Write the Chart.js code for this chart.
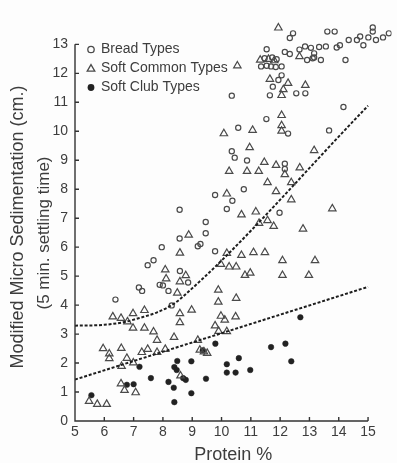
<!DOCTYPE html>
<html>
<head>
<meta charset="utf-8">
<script src="https://cdn.jsdelivr.net/npm/chart.js@4.4.1/dist/chart.umd.min.js"></script>
<style>
  html, body { margin: 0; padding: 0; background: #fdfdfd; }
  canvas { display: block; }
</style>
</head>
<body>
<canvas id="chart" width="397" height="463"></canvas>
<script>
// Data
const breadX = [12.44, 12.33, 13.61, 13.86, 15.16, 15.16, 15.01, 15.27, 15.51, 15.71, 14.62, 14.73, 14.34, 14.84, 13.93, 14.04, 14.23, 13.33, 13.56, 12.85,
    13.05, 13.16, 13.16, 12.66, 12.16, 12.33, 12.92, 13.11, 13.39, 11.54, 11.47, 11.73, 11.88, 11.35, 11.54, 11.69, 11.85, 12.05, 12.05, 11.94,
    11.75, 11.65, 12.55, 12.86, 10.35, 14.16, 11.53, 10.57, 12.27, 13.67, 10.35, 10.45, 10.87, 12.16, 12.16, 10.76, 9.78, 10.37, 10.18, 8.57,
    11.98, 9.46, 9.46, 8.57, 9.19, 9.28, 7.96, 9.78, 7.48, 7.68, 8.58, 8.86, 7.89, 8.00, 7.18, 7.29, 8.19, 6.38, 8.30];
const breadY = [13.38, 13.22, 13.44, 13.44, 13.58, 13.44, 13.24, 13.15, 13.24, 13.38, 13.15, 13.27, 13.15, 12.97, 12.89, 12.97, 12.46, 12.91, 12.93, 12.93,
    12.88, 12.69, 12.55, 12.82, 12.74, 12.67, 12.46, 12.52, 12.46, 12.83, 12.52, 12.55, 12.49, 12.24, 12.26, 12.24, 12.22, 12.24, 11.93, 11.77,
    11.54, 11.24, 11.31, 11.31, 11.23, 10.84, 10.42, 10.12, 9.92, 10.03, 9.31, 9.09, 8.99, 8.88, 8.70, 8.00, 7.80, 7.60, 7.32, 7.29,
    7.19, 6.87, 6.48, 6.30, 6.03, 6.11, 6.00, 5.86, 5.38, 5.55, 5.18, 4.78, 4.70, 4.68, 4.61, 4.49, 4.49, 4.19, 3.99];

const commonX = [11.94, 10.54, 11.32, 11.60, 11.80, 12.66, 11.65, 12.27, 12.86, 12.05, 12.11, 12.05, 12.05, 12.05, 11.06, 10.08, 10.96, 13.16, 11.46, 11.86,
    12.16, 12.67, 10.26, 10.87, 11.27, 11.57, 12.38, 11.86, 10.18, 12.38, 13.78, 10.68, 11.17, 11.28, 11.57, 11.78, 12.78, 8.88, 8.58, 10.18,
    10.68, 11.09, 11.48, 12.08, 13.19, 9.98, 10.26, 10.50, 8.08, 8.78, 10.80, 10.98, 12.08, 12.98, 8.11, 8.58, 8.49, 9.89, 9.89, 10.50,
    8.98, 8.58, 8.58, 6.29, 6.57, 6.79, 6.98, 7.37, 6.98, 7.37, 7.68, 7.80, 8.38, 9.98, 10.11, 9.78, 10.48, 9.90, 10.18, 9.19,
    9.26, 9.40, 9.51, 8.60, 5.96, 6.17, 6.17, 6.58, 6.77, 6.59, 6.99, 7.28, 7.48, 7.80, 8.08, 6.57, 6.69, 7.07, 5.48, 5.76, 6.08];
const commonY = [13.57, 12.26, 12.46, 12.49, 12.44, 12.58, 11.80, 11.66, 11.59, 11.24, 11.44, 10.55, 10.20, 10.01, 10.04, 9.92, 9.44, 9.34, 8.93, 8.83,
    8.51, 8.74, 8.62, 8.62, 8.62, 8.23, 8.23, 7.92, 7.84, 7.64, 7.33, 7.12, 7.22, 6.83, 6.92, 6.72, 6.63, 6.42, 5.80, 5.79,
    5.72, 5.82, 5.82, 5.54, 5.54, 5.41, 5.32, 5.32, 5.22, 5.02, 5.03, 5.11, 5.03, 5.03, 4.91, 4.81, 4.42, 4.52, 4.11, 4.24,
    3.83, 3.71, 3.40, 3.60, 3.55, 3.43, 3.71, 3.82, 3.21, 3.21, 3.08, 2.79, 2.89, 3.62, 3.49, 3.29, 3.60, 3.10, 3.09, 2.79,
    2.45, 2.39, 2.34, 1.56, 2.50, 2.32, 2.16, 2.51, 2.17, 1.89, 2.01, 2.37, 2.48, 2.37, 2.48, 1.29, 1.06, 0.98, 0.68, 0.58, 0.58];

const clubX = [5.56, 6.77, 7.00, 7.20, 7.59, 8.19, 8.37, 8.39, 8.49, 8.39, 8.47, 8.69, 8.78, 8.97, 8.97, 9.36, 9.47, 9.79, 10.18, 10.18,
    10.48, 10.59, 10.98, 11.69, 12.18, 12.38, 12.69];
const clubY = [0.89, 1.25, 1.27, 1.87, 1.48, 1.35, 1.15, 0.65, 2.07, 1.86, 1.76, 1.48, 1.42, 2.06, 0.96, 2.44, 1.46, 2.67, 1.96, 1.67,
    1.67, 2.17, 1.76, 2.55, 2.67, 2.06, 3.58];

// the two dashed curves drawn on the figure
const upperFitX = [5, 6, 6.7, 7.25, 7.8, 8.25, 8.6, 15];
const upperFitY = [3.29, 3.32, 3.42, 3.57, 3.75, 3.97, 4.22, 10.88];
const lowerFitX = [5, 15];
const lowerFitY = [1.43, 4.63];

const xTicks = [5, 6, 7, 8, 9, 10, 11, 12, 13, 14, 15];
const yTicks = [0, 1, 2, 3, 4, 5, 6, 7, 8, 9, 10, 11, 12, 13];

const legendLabels = ['Bread Types', 'Soft Common Types', 'Soft Club Types'];
const yTitleLines = ['Modified Micro Sedimentation (cm.)', '(5 min. settling time)'];

const inkColor = '#3d3d3d';
const markColor = '#4a4a4a';
const fontFamily = '"Liberation Sans", Arial, sans-serif';

const toPoints = (xs, ys) => xs.map((x, i) => ({ x: x, y: ys[i] }));

// axes are drawn only over the labelled range, like the original
const axesPlugin = {
    id: 'axes',
    afterDatasetsDraw(chart) {
        const ctx = chart.ctx;
        const xs = chart.scales.x;
        const ys = chart.scales.y;
        const x0 = xs.getPixelForValue(xTicks[0]);
        const x1 = xs.getPixelForValue(xTicks[xTicks.length - 1]);
        const y0 = ys.getPixelForValue(yTicks[0]);
        const y1 = ys.getPixelForValue(yTicks[yTicks.length - 1]);
        ctx.save();
        ctx.strokeStyle = '#333';
        ctx.lineWidth = 1.4;
        ctx.beginPath();
        ctx.moveTo(x0, y1);
        ctx.lineTo(x0, y0);
        ctx.lineTo(x1, y0);
        yTicks.forEach(v => {
            const p = ys.getPixelForValue(v);
            ctx.moveTo(x0, p);
            ctx.lineTo(x0 + 4, p);
        });
        xTicks.forEach(v => {
            const p = xs.getPixelForValue(v);
            ctx.moveTo(p, y0);
            ctx.lineTo(p, y0 - 4);
        });
        ctx.stroke();
        ctx.restore();
    }
};

// legend sits inside the plot, top left
const legendPlugin = {
    id: 'insideLegend',
    afterDraw(chart) {
        const ctx = chart.ctx;
        const lx = 91, ty = 49.5, gap = 19;
        ctx.save();
        ctx.strokeStyle = markColor;
        ctx.fillStyle = '#222';
        ctx.lineWidth = 1.3;
        // open circle
        ctx.beginPath();
        ctx.arc(lx, ty, 3.2, 0, Math.PI * 2);
        ctx.stroke();
        // open triangle
        const r = 4.4, cy = ty + gap + 0.5;
        ctx.beginPath();
        ctx.moveTo(lx, cy - r);
        ctx.lineTo(lx + r * 0.866, cy + r * 0.5);
        ctx.lineTo(lx - r * 0.866, cy + r * 0.5);
        ctx.closePath();
        ctx.stroke();
        // filled dot
        ctx.beginPath();
        ctx.arc(lx, ty + gap * 2, 3.4, 0, Math.PI * 2);
        ctx.fill();

        ctx.fillStyle = inkColor;
        ctx.font = '14px ' + fontFamily;
        ctx.textBaseline = 'middle';
        ctx.textAlign = 'left';
        legendLabels.forEach((t, i) => ctx.fillText(t, 101, ty + gap * i));
        ctx.restore();
    }
};

// two-line rotated y title
const yTitlePlugin = {
    id: 'yTitle',
    afterDraw(chart) {
        const ctx = chart.ctx;
        ctx.save();
        ctx.fillStyle = inkColor;
        ctx.textAlign = 'center';
        ctx.textBaseline = 'middle';
        ctx.translate(18, 227);
        ctx.rotate(-Math.PI / 2);
        ctx.font = '18px ' + fontFamily;
        ctx.fillText(yTitleLines[0], 0, 0);
        ctx.font = '17px ' + fontFamily;
        ctx.fillText(yTitleLines[1], -6, 26);
        ctx.restore();
    }
};

new Chart(document.getElementById('chart'), {
    type: 'scatter',
    data: {
        datasets: [
            {
                label: 'upper curve',
                type: 'line',
                data: toPoints(upperFitX, upperFitY),
                borderColor: '#1e1e1e',
                borderWidth: 2,
                borderDash: [3, 1.8],
                pointRadius: 0,
                cubicInterpolationMode: 'monotone',
                fill: false
            },
            {
                label: 'lower line',
                type: 'line',
                data: toPoints(lowerFitX, lowerFitY),
                borderColor: '#1e1e1e',
                borderWidth: 2,
                borderDash: [3, 1.8],
                pointRadius: 0,
                fill: false
            },
            {
                label: legendLabels[0],
                data: toPoints(breadX, breadY),
                pointStyle: 'circle',
                pointRadius: 2.6,
                borderWidth: 1.2,
                borderColor: markColor,
                backgroundColor: 'rgba(0,0,0,0)'
            },
            {
                label: legendLabels[1],
                data: toPoints(commonX, commonY),
                pointStyle: 'triangle',
                pointRadius: 4.3,
                borderWidth: 1.2,
                borderColor: markColor,
                backgroundColor: 'rgba(0,0,0,0)'
            },
            {
                label: legendLabels[2],
                data: toPoints(clubX, clubY),
                pointStyle: 'circle',
                pointRadius: 2.8,
                borderWidth: 0.5,
                borderColor: '#222',
                backgroundColor: '#222'
            }
        ]
    },
    options: {
        responsive: false,
        animation: false,
        devicePixelRatio: 1,
        layout: { padding: { top: 2, right: 0, left: 0, bottom: 0 } },
        plugins: {
            legend: { display: false },
            tooltip: { enabled: false }
        },
        scales: {
            x: {
                type: 'linear',
                min: 5,
                max: 15.8,
                grid: { display: false, drawTicks: false },
                border: { display: false },
                ticks: {
                    stepSize: 1,
                    includeBounds: false,
                    autoSkip: false,
                    maxRotation: 0,
                    padding: 3,
                    color: inkColor,
                    font: { family: fontFamily, size: 14 },
                    callback: v => (xTicks.includes(v) ? String(v) : '')
                },
                title: {
                    display: true,
                    text: 'Protein %',
                    color: inkColor,
                    font: { family: fontFamily, size: 18, lineHeight: 0.9 },
                    padding: { top: 0, bottom: 0 }
                },
                afterFit: scale => { scale.height = 42; }
            },
            y: {
                type: 'linear',
                min: 0,
                max: 14,
                grid: { display: false, drawTicks: false },
                border: { display: false },
                ticks: {
                    stepSize: 1,
                    includeBounds: false,
                    autoSkip: false,
                    padding: 7,
                    color: inkColor,
                    font: { family: fontFamily, size: 14 },
                    callback: v => (yTicks.includes(v) ? String(v) : '')
                },
                afterFit: scale => { scale.width = 75; }
            }
        }
    },
    plugins: [axesPlugin, legendPlugin, yTitlePlugin]
});
</script>
</body>
</html>
